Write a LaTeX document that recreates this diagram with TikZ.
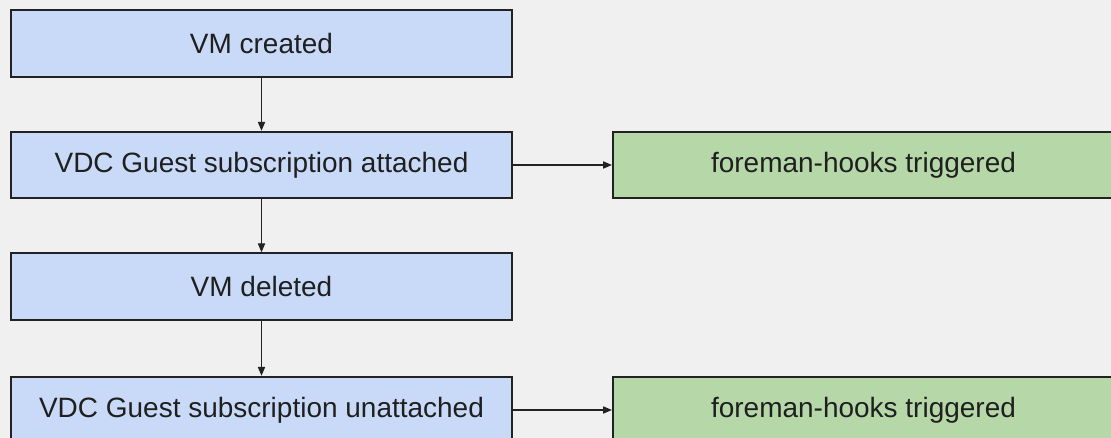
\documentclass[tikz,border=0pt]{standalone}
\usepackage{fontspec}
\setmainfont{Liberation Sans}
\usetikzlibrary{arrows.meta}
\usetikzlibrary{positioning}

\definecolor{bgGray}{HTML}{F0F0F0}
\definecolor{stepBlue}{HTML}{C9DAF8}
\definecolor{hookGreen}{HTML}{B6D7A8}
\definecolor{edgeGray}{HTML}{222222}

\begin{document}
\begin{tikzpicture}[x=0.025cm,y=-0.025cm,
  eventbox/.style={rectangle,draw=edgeGray,line width=1.45pt,fill=stepBlue,minimum width=12.525cm,minimum height=1.66cm,inner sep=0pt,font=\fontsize{19.9}{24}\selectfont,text=black!88},
  hookbox/.style={eventbox,fill=hookGreen},
  flow/.style={draw=edgeGray,line width=0.75pt,-{Triangle[length=2.2mm,width=1.8mm]}}]
\fill[bgGray] (0,0) rectangle (1111,438);
\useasboundingbox (0,0) rectangle (1111,438);
\clip (0,0) rectangle (1111,438);

% left column
\node[eventbox] (created) at (261.5,43.5) {VM created};
\node[eventbox] (attached) at (261.5,165) {VDC Guest subscription attached};
\node[eventbox] (deleted) at (261.5,286.5) {VM deleted};
\node[eventbox] (unattached) at (261.5,410) {VDC Guest subscription unattached};

% right column
\node[hookbox] (hooksA) at (863.5,165) {foreman-hooks triggered};
\node[hookbox] (hooksB) at (863.5,410) {foreman-hooks triggered};

\draw[flow] (created) -- (attached);
\draw[flow] (attached) -- (deleted);
\draw[flow] (deleted) -- (unattached);
\draw[flow] (attached) -- (hooksA);
\draw[flow] (unattached) -- (hooksB);

\end{tikzpicture}
\end{document}
